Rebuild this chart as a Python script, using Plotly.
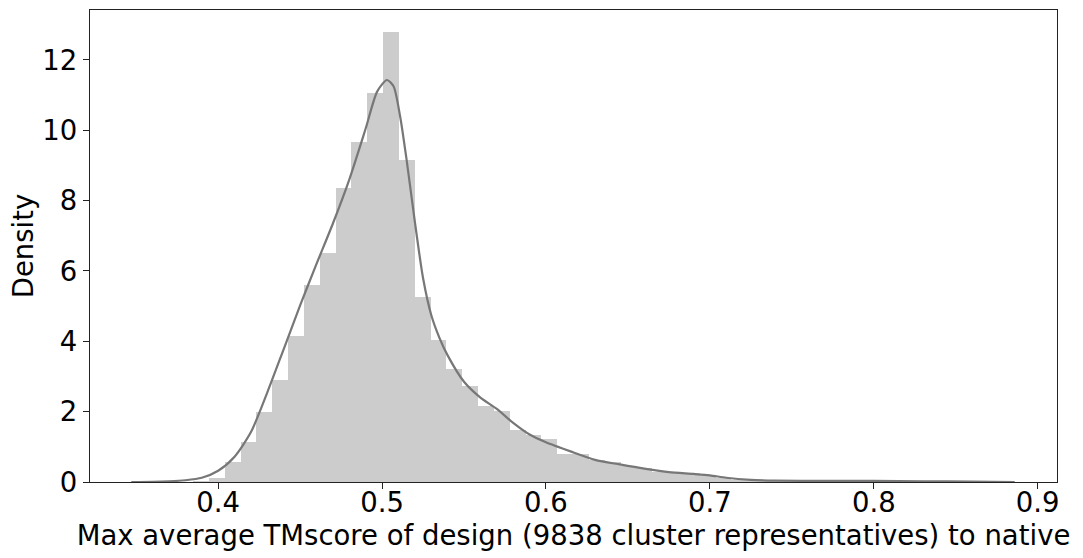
import numpy as np
import plotly.graph_objects as go

# Histogram: 50 equal bins between data min and max (seaborn distplot style)
data_min = 0.375
data_max = 0.858
n_bins = 50
bar_heights = [
    0.0, 0.01, 0.12, 0.57, 1.14, 1.99, 2.91, 4.15, 5.6, 6.5,
    8.37, 9.67, 11.05, 12.79, 9.15, 5.26, 4.05, 3.22, 2.73, 2.15,
    2.02, 1.49, 1.33, 1.23, 0.80, 0.79, 0.62, 0.57, 0.46, 0.40,
    0.28, 0.26, 0.25, 0.18, 0.11, 0.07, 0.05, 0.04, 0.03, 0.03,
    0.02, 0.03, 0.02, 0.02, 0.01, 0.02, 0.01, 0.01, 0.0, 0.01,
]

# KDE curve
kde_x = [0.347, 0.36, 0.37, 0.38, 0.39, 0.40, 0.41, 0.42, 0.43, 0.44,
         0.45, 0.46, 0.47, 0.48, 0.49, 0.497, 0.503, 0.507, 0.511, 0.515,
         0.52, 0.525, 0.53, 0.535, 0.54, 0.55, 0.56, 0.57, 0.58, 0.59,
         0.60, 0.615, 0.63, 0.645, 0.66, 0.675, 0.69, 0.70, 0.71, 0.725,
         0.74, 0.77, 0.80, 0.83, 0.86, 0.886]
kde_y = [0.0, 0.005, 0.02, 0.05, 0.12, 0.32, 0.72, 1.42, 2.55, 3.78,
         5.02, 6.2, 7.35, 8.6, 10.05, 11.1, 11.43, 11.25, 10.4, 9.15,
         7.4, 5.8, 4.75, 4.1, 3.6, 2.85, 2.4, 2.08, 1.68, 1.35,
         1.13, 0.87, 0.63, 0.5, 0.38, 0.28, 0.23, 0.19, 0.12, 0.06,
         0.04, 0.03, 0.03, 0.02, 0.01, 0.0]

x_ticks = [0.4, 0.5, 0.6, 0.7, 0.8, 0.9]
y_ticks = [0, 2, 4, 6, 8, 10, 12]

edges = np.linspace(data_min, data_max, n_bins + 1)
centers = (edges[:-1] + edges[1:]) / 2
bw = edges[1] - edges[0]

fig = go.Figure()
fig.add_trace(go.Bar(x=centers, y=bar_heights, width=bw,
                     marker=dict(color="#cccccc", line=dict(width=0)),
                     showlegend=False, hoverinfo="skip"))
fig.add_trace(go.Scatter(x=kde_x, y=kde_y, mode="lines",
                         line=dict(color="#777777", width=2.2, shape="spline", smoothing=0.7),
                         showlegend=False))

font = dict(family="DejaVu Sans", size=27.5, color="black")
fig.update_layout(
    width=1083, height=558,
    margin=dict(l=90, r=26, t=10, b=76),
    paper_bgcolor="white", plot_bgcolor="white",
    bargap=0, font=font,
    xaxis=dict(range=[0.3218, 0.9118], tickvals=x_ticks,
               ticktext=[f"{v:.1f}" for v in x_ticks], automargin=False,
               showgrid=False, zeroline=False, showline=True, mirror=True,
               linecolor="#222222", linewidth=1.3, ticks="outside", ticklen=6,
               tickcolor="#222222", tickwidth=1.3, ticklabelstandoff=-10,
               title=dict(text="Max average TMscore of design (9838 cluster representatives) to native",
                          font=font, standoff=8)),
    yaxis=dict(range=[0, 13.42], tickvals=y_ticks, automargin=False,
               showgrid=False, zeroline=False, showline=True, mirror=True,
               linecolor="#222222", linewidth=1.3, ticks="outside", ticklen=6,
               tickcolor="#222222", tickwidth=1.3,
               title=dict(text="Density", font=font, standoff=0)),
)
fig.write_html("out.html")
